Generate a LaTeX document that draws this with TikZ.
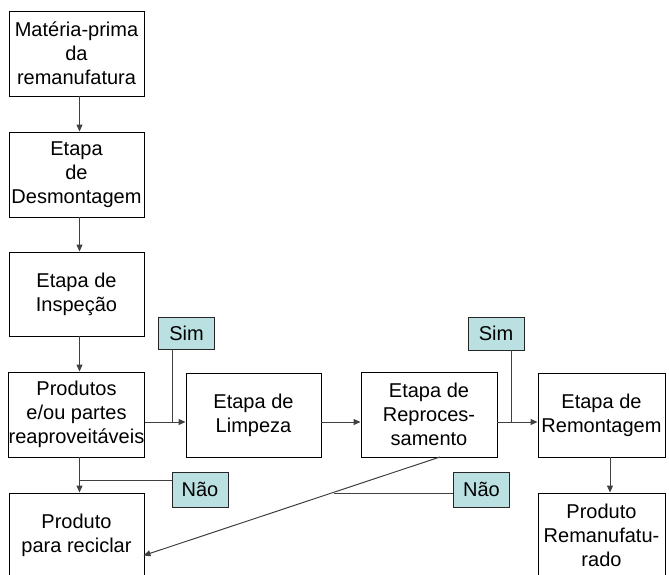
\documentclass[tikz,border=0pt]{standalone}
\usepackage{fontspec}
\setmainfont{Liberation Sans}
\usetikzlibrary{arrows.meta}
\definecolor{tealbox}{RGB}{186,224,226}
\begin{document}
\begin{tikzpicture}[x=1pt,y=-1pt,
  box/.style={draw=black, line width=0.9pt, fill=white, inner sep=0pt, align=center,
              font=\fontsize{20}{24}\selectfont},
  tagbox/.style={draw=black!85, line width=0.9pt, fill=tealbox, inner sep=0pt,
              minimum width=56pt, font=\fontsize{20}{24}\selectfont},
  conn/.style={draw=black!75, line width=1pt},
  arr/.style={conn, -{Triangle[length=7pt,width=6pt]}}]
\useasboundingbox (0,0) rectangle (669,575);
\clip (0,0) rectangle (669,575);
% main boxes
\node[box, minimum width=135pt, minimum height=85pt] (b1) at (76.5,53.5) {Matéria-prima\\da\\remanufatura};
\node[box, minimum width=135pt, minimum height=85pt] (b2) at (76.5,174.5) {Etapa\\de\\Desmontagem};
\node[box, minimum width=135pt, minimum height=84pt] (b3) at (76.5,294) {Etapa de\\Inspeção};
\node[box, minimum width=135pt, minimum height=85pt] (b4) at (76.5,414.5) {Produtos\\e/ou partes\\reaproveitáveis};
\node[box, minimum width=135pt, minimum height=85pt] (b5) at (76.5,535.5) {Produto\\para reciclar};
\node[box, minimum width=135pt, minimum height=84pt] (b6) at (253.5,415) {Etapa de\\Limpeza};
\node[box, minimum width=136pt, minimum height=85pt] (b7) at (429,414.5) {Etapa de\\Reproces-\\samento};
\node[box, minimum width=127pt, minimum height=84pt] (b8) at (601.5,415) {Etapa de\\Remontagem};
\node[box, minimum width=127pt, minimum height=85pt] (b9) at (601.5,535.5) {Produto\\Remanufatu-\\rado};
% tags
\node[tagbox, minimum height=32pt] (sim1) at (186.5,333) {Sim};
\node[tagbox, minimum height=33pt] (sim2) at (496,333.5) {Sim};
\node[tagbox, minimum height=35pt] (nao1) at (200,489.5) {Não};
\node[tagbox, minimum height=35pt] (nao2) at (481.5,489.5) {Não};
% helper coordinates
\coordinate (c1) at (79.5,0);
\coordinate (hy) at (0,422);
\coordinate (j1) at (79.5,480);
\coordinate (s1) at (172,422);
\coordinate (s2) at (511,422);
\coordinate (d0) at (440,457);
\coordinate (d1) at (143.5,555.5);
\coordinate (j2) at (334,493);
\coordinate (c8) at (610,0);
% vertical arrows in left column
\draw[arr] (b1.south -| c1) -- (b2.north -| c1);
\draw[arr] (b2.south -| c1) -- (b3.north -| c1);
\draw[arr] (b3.south -| c1) -- (b4.north -| c1);
\draw[arr] (b4.south -| c1) -- (b5.north -| c1);
% horizontal arrows
\draw[arr] (b4.east |- hy) -- (b6.west |- hy);
\draw[arr] (b6.east |- hy) -- (b7.west |- hy);
\draw[arr] (b7.east |- hy) -- (b8.west |- hy);
\draw[arr] (b8.south -| c8) -- (b9.north -| c8);
% Sim lines
\draw[conn] (sim1.south -| s1) -- (s1);
\draw[conn] (sim2.south -| s2) -- (s2);
% Nao lines
\draw[conn] ([yshift=9.5pt]nao1.west) -- (j1);
\draw[arr] (d0) -- (d1);
\draw[conn] ([yshift=-3.5pt]nao2.west) -- (j2);
\end{tikzpicture}
\end{document}
